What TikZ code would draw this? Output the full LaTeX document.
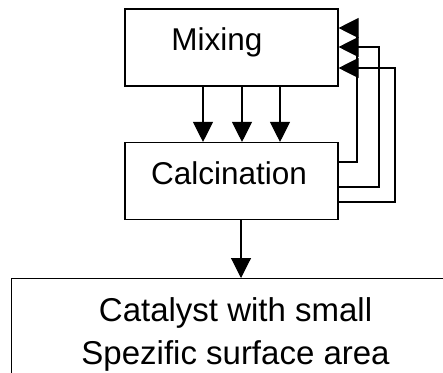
\documentclass[tikz,border=0pt]{standalone}
\usepackage{fontspec}
\setmainfont{Liberation Sans}
\usepackage{tikz}
\usetikzlibrary{
  positioning,
  arrows.meta
}

\begin{document}
\begin{tikzpicture}[
  x=1pt, y=-1pt,
  procbox/.style={draw, line width=1.1pt, minimum width=213pt,
                  minimum height=77pt, inner sep=0pt,
                  text height=22.5pt, text depth=16.5pt,
                  font=\fontsize{31.5}{36}\selectfont},
  flow/.style={-{Triangle[length=20pt, width=20pt]}, line width=1.1pt}
]
  \clip (0,0) rectangle (443,372);
  \fill[white] (0,0) rectangle (443,372);

  \node[procbox] (mix) at (231.5,47.5) {Mixing\hspace*{29pt}};
  \node[procbox] (calc) at (231.5,181) {Calcination\hspace*{5pt}};
  \node[draw, line width=1.1pt, anchor=north west, minimum width=448pt,
        inner ysep=19pt, align=center,
        font=\fontsize{33}{43}\selectfont] (cat) at (11,278)
        {Catalyst with small\\Spezific surface area};

  % mixing -> calcination
  \foreach \x in {203,242,280}
    \draw[flow] (mix.south -| \x,0) -- (calc.north -| \x,0);
  % back to mixing
  \foreach \ya/\xr/\yb in {162/357/28, 187/379/47, 202/395/68}
    \draw[flow] (calc.east |- 0,\ya) -| (\xr,\yb) -- (mix.east |- 0,\yb);
  % product
  \draw[flow] (calc.south -| 241,0) -- (cat.north -| 241,0);
\end{tikzpicture}
\end{document}
